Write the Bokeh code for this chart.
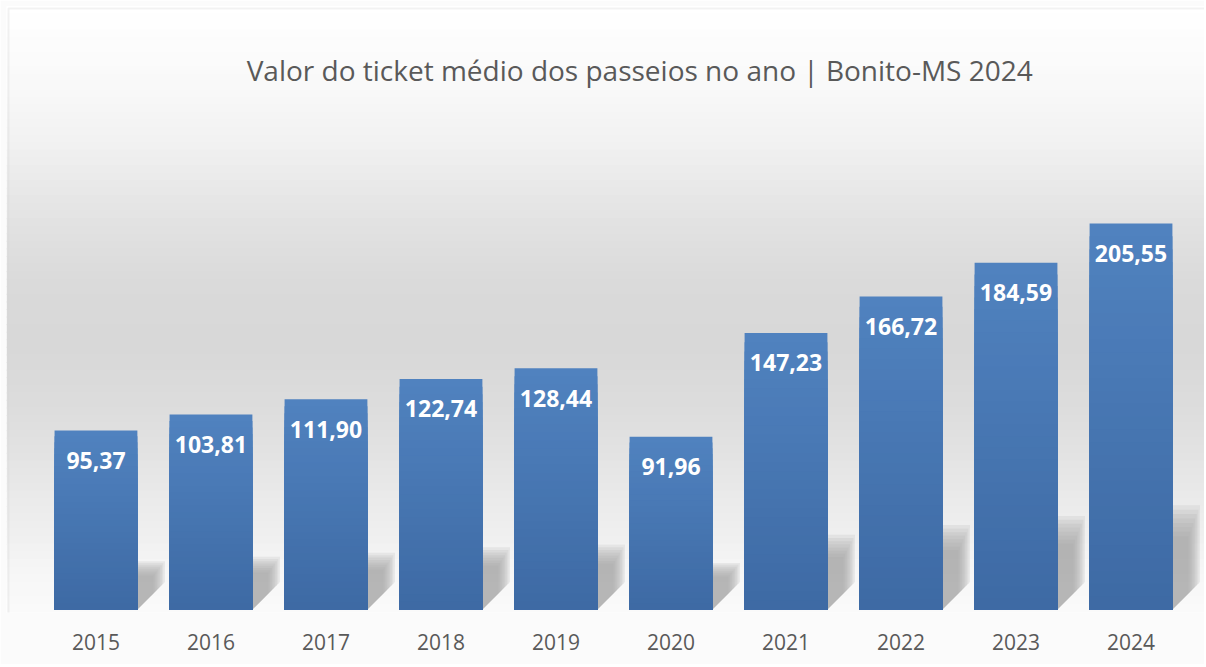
from bokeh.plotting import figure
from bokeh.models import Range1d, FixedTicker, Label, BoxAnnotation
from bokeh.core.properties import value
from bokeh.embed import file_html
from bokeh.resources import INLINE

# ---- data ----
years = ["2015", "2016", "2017", "2018", "2019", "2020", "2021", "2022", "2023", "2024"]
ticket = [95.37, 103.81, 111.90, 122.74, 128.44, 91.96, 147.23, 166.72, 184.59, 205.55]
labels = ["95,37", "103,81", "111,90", "122,74", "128,44", "91,96", "147,23", "166,72", "184,59", "205,55"]
title_text = "Valor do ticket médio dos passeios no ano | Bonito-MS 2024"

n = len(years)
xs = list(range(n))

W, H = 1204, 664
p = figure(width=W, height=H, output_backend="svg", toolbar_location=None,
           x_range=Range1d(-0.778, 9.639), y_range=Range1d(-1.59, 321.07),
           min_border_left=6, min_border_right=0, min_border_top=6, min_border_bottom=52)
p.border_fill_color = "#fbfbfb"
p.outline_line_color = None
p.grid.visible = False
p.yaxis.visible = False

# ---- background vertical gradient (style stops: fraction from top, gray level) ----
stops = [(0.0, 255), (0.15, 248), (0.22, 242), (0.32, 230), (0.40, 222), (0.48, 217),
         (0.57, 216), (0.65, 220), (0.73, 226), (0.81, 234), (0.88, 240), (0.93, 246),
         (0.98, 249), (1.0, 250)]
def gray_at(f):
    for (f0, g0), (f1, g1) in zip(stops[:-1], stops[1:]):
        if f0 <= f <= f1:
            t = (f - f0) / (f1 - f0) if f1 > f0 else 0
            return g0 + t * (g1 - g0)
    return stops[-1][1]
ystart, yend = p.y_range.start, p.y_range.end
N = 80
tops, bottoms, cols = [], [], []
for k in range(N):
    f0, f1 = k / N, (k + 1) / N
    t = yend - f0 * (yend - ystart)
    b = yend - f1 * (yend - ystart)
    g = int(round(gray_at((f0 + f1) / 2)))
    tops.append(t + 0.3); bottoms.append(b - 0.3)
    cols.append("#%02x%02x%02x" % (g, g, g))
p.quad(left=p.x_range.start, right=p.x_range.end, top=tops, bottom=bottoms,
       fill_color=cols, line_color=None)

# ---- floor shadows (soft, several translucent layers) ----
bw = 0.72
NL = 8
for j in range(NL):
    t = j / (NL - 1)
    dx = 0.24 - 0.10 * t
    s = 0.27 - 0.08 * t
    sx, sy = [], []
    for i, v in zip(xs, ticket):
        xl, xr = i - bw / 2, i + bw / 2
        d_units = dx * 115 / 1.878
        sx.append([xl, xr, xr + dx, xr + dx, xl + dx])
        sy.append([0, 0, min(d_units, s * v), s * v, s * v])
    p.patches(sx, sy, fill_color="#a4a4a4", fill_alpha=0.16, line_color=None)

# ---- bars with vertical gradient ----
top_c = (80, 130, 191)
bot_c = (61, 105, 163)
L = 30
for k in range(L):
    frac = k / L
    c = tuple(int(round(top_c[j] + (bot_c[j] - top_c[j]) * frac)) for j in range(3))
    p.vbar(x=xs, width=bw, bottom=0, top=[v * (1 - frac) for v in ticket],
           fill_color="#%02x%02x%02x" % c, line_color=None)

# ---- value labels ----
p.text(x=xs, y=ticket, text=labels, y_offset=30, text_align="center",
       text_baseline="middle", text_color="white", text_font=value("Open Sans"),
       text_font_size="23px", text_font_style="bold")

# ---- title ----
p.add_layout(Label(x=(n - 1) / 2 + 0.228, y=287, text=title_text, text_align="center",
                   text_baseline="middle", text_color="#595959", text_font="Open Sans",
                   text_font_size="28px"))

# ---- chart border ----
p.add_layout(BoxAnnotation(left=8, right=3000, top=8, bottom=3000,
                           left_units="canvas", right_units="canvas",
                           top_units="canvas", bottom_units="canvas",
                           fill_color=None, line_color="#d4d4d4", line_width=2))

# ---- x axis ----
ax = p.xaxis[0]
ax.ticker = FixedTicker(ticks=xs)
ax.major_label_overrides = {i: y for i, y in zip(xs, years)}
ax.axis_line_color = None
ax.major_tick_line_color = None
ax.minor_tick_line_color = None
ax.major_label_standoff = 15
ax.major_label_text_font = "Open Sans"
ax.major_label_text_font_size = "21px"
ax.major_label_text_color = "#595959"

open("out.html", "w").write(file_html(p, INLINE))
